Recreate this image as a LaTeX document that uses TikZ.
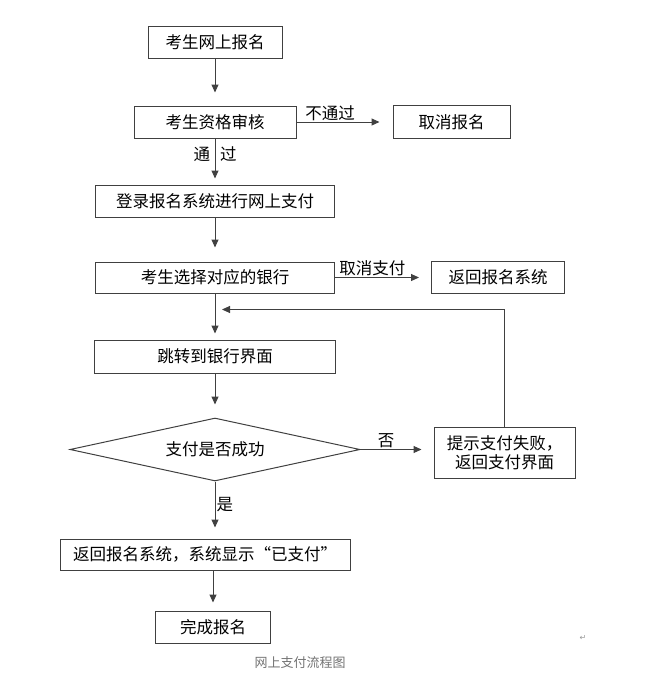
\documentclass[tikz,border=0pt]{standalone}
\usepackage{fontspec}
\setmainfont{Noto Sans CJK SC}
\newfontfamily\symfont{DejaVu Sans}
\usetikzlibrary{arrows.meta,positioning,shapes.geometric}

\begin{document}
\begin{tikzpicture}[x=1pt,y=-1pt,>={Triangle[length=8pt,width=7pt]},
process/.style={draw=black!75,line width=1pt,inner sep=0pt,minimum height=32pt,font=\fontsize{16.5}{19}\selectfont},
judge/.style={draw=black!75,line width=1pt,diamond,aspect=4.6,inner sep=0pt,minimum width=290pt,minimum height=63pt,font=\fontsize{16.5}{19}\selectfont},
tag/.style={font=\fontsize{16.5}{19}\selectfont,inner sep=1pt},
link/.style={->,draw=black!75,line width=1pt}]
\useasboundingbox (0,0) rectangle (670,691);
\node[process,minimum width=134pt] (apply) at (215,42) {考生网上报名};
\node[process,minimum width=162pt,below=47pt of apply] (check) {考生资格审核};
\node[process,minimum width=117pt,minimum height=33pt,right=96pt of check] (cancel) {取消报名};
\node[process,minimum width=239pt,below=46pt of check] (login) {登录报名系统进行网上支付};
\node[process,minimum width=239pt,minimum height=31pt,below=44pt of login] (bank) {考生选择对应的银行};
\node[process,minimum width=133pt,right=96pt of bank] (back) {返回报名系统};
\node[process,minimum width=241pt,minimum height=33pt,below=46pt of bank] (jump) {跳转到银行界面};
\node[judge,below=44pt of jump] (pay) {支付是否成功};
\node[process,minimum width=141pt,minimum height=51pt,align=center,right=73pt of pay,yshift=-3pt] (fail) {提示支付失败，\\返回支付界面};
\node[process,minimum width=290pt,minimum height=31pt,below=57pt of pay,xshift=-10pt] (paid) {返回报名系统，系统显示“已支付”};
\node[process,minimum width=115pt,below=40pt of paid,xshift=8pt] (done) {完成报名};
\node[font=\fontsize{13}{15}\selectfont,text=black!55] (caption) at (300,663) {网上支付流程图};
\node[font=\symfont\fontsize{8}{9}\selectfont,text=black!40] (mark) at (583,638) {↵};
\coordinate[below=16pt of bank.south] (rejoin);
\draw[link,shorten >=13pt] (apply)--(check);
\draw[link,shorten >=13pt] (check)--node[tag,above,pos=0.35]{不通过}(cancel);
\draw[link,shorten >=6pt] (check)--node[tag,pos=0.33]{通\hspace{10pt}过}(login);
\draw[link,shorten >=14pt] (login)--(bank);
\draw[link,shorten >=12pt] (bank)--node[tag,above,pos=0.39]{取消支付}(back);
\draw[link,shorten >=6pt] (bank)--(jump);
\draw[link,shorten >=13pt] (jump)--(pay);
\draw[link,shorten >=12pt] (pay.east)--node[tag,above,pos=0.35]{否}(pay.east-|fail.west);
\draw[link,shorten >=11pt] (pay.south)--node[tag,right,pos=0.4]{是}(pay.south|-paid.north);
\draw[link,shorten >=8pt] (done.north|-paid.south)--(done.north);
\draw[link,shorten >=7pt] (fail.north)|-(rejoin);
\end{tikzpicture}
\end{document}
